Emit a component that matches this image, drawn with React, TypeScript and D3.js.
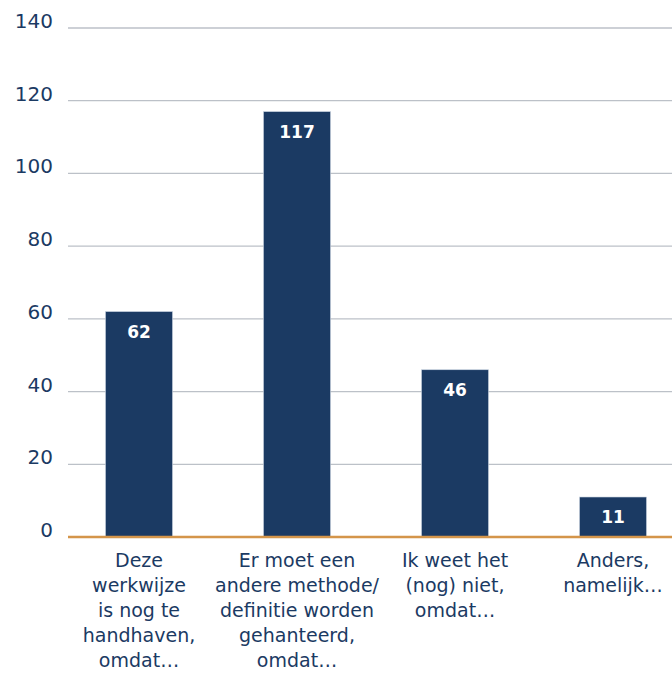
import React from "react";
import * as d3 from "d3";

const categories = ["cat1", "cat2", "cat3", "cat4"];
const labelLines = [
  ["Deze", "werkwijze", "is nog te", "handhaven,", "omdat…"],
  ["Er moet een", "andere methode/", "definitie worden", "gehanteerd,", "omdat…"],
  ["Ik weet het", "(nog) niet,", "omdat…"],
  ["Anders,", "namelijk…"],
];
const values = [62, 117, 46, 11];
const yTicks = [0, 20, 40, 60, 80, 100, 120, 140];

const W = 672;
const H = 673;
const navy = "#1b3a63";
const font = "'DejaVu Sans', sans-serif";

export default function App() {
  const left = 68;
  const top = 28;
  const bottom = 537;
  const x = d3.scaleBand<string>().domain(categories).range([60, 692]).paddingInner(0.575).paddingOuter(0.2875);
  const y = d3.scaleLinear().domain([0, 140]).range([bottom, top]);
  const bw = 67;
  return (
    <svg width={W} height={H} style={{ position: "absolute", left: 0, top: 0, background: "#fff" }}>
      {yTicks.map((t) => (
        <g key={t}>
          {t !== 0 && <line x1={left} x2={W} y1={y(t)} y2={y(t)} stroke="#bcc1c8" strokeWidth={1.3} />}
          <text x={53} y={y(t)} textAnchor="end" fontFamily={font} fontSize={20} fill={navy}>
            {t}
          </text>
        </g>
      ))}
      {categories.map((c, i) => {
        const cx = (x(c) as number) + x.bandwidth() / 2;
        return (
          <g key={c}>
            <rect x={cx - bw / 2} y={y(values[i])} width={bw} height={y(0) - y(values[i])} fill={navy} stroke="#c9d3e0" strokeWidth={0.6} />
            <text x={cx} y={y(values[i]) + 26} textAnchor="middle" fontFamily={font} fontWeight={700} fontSize={17} fill="#fff">
              {values[i]}
            </text>
            {labelLines[i].map((l, j) => (
              <text key={j} x={cx} y={567 + j * 25} textAnchor="middle" fontFamily={font} fontSize={19} fill={navy}>
                {l}
              </text>
            ))}
          </g>
        );
      })}
      <line x1={left} x2={W} y1={y(0)} y2={y(0)} stroke="#d4954a" strokeWidth={2.5} />
    </svg>
  );
}
